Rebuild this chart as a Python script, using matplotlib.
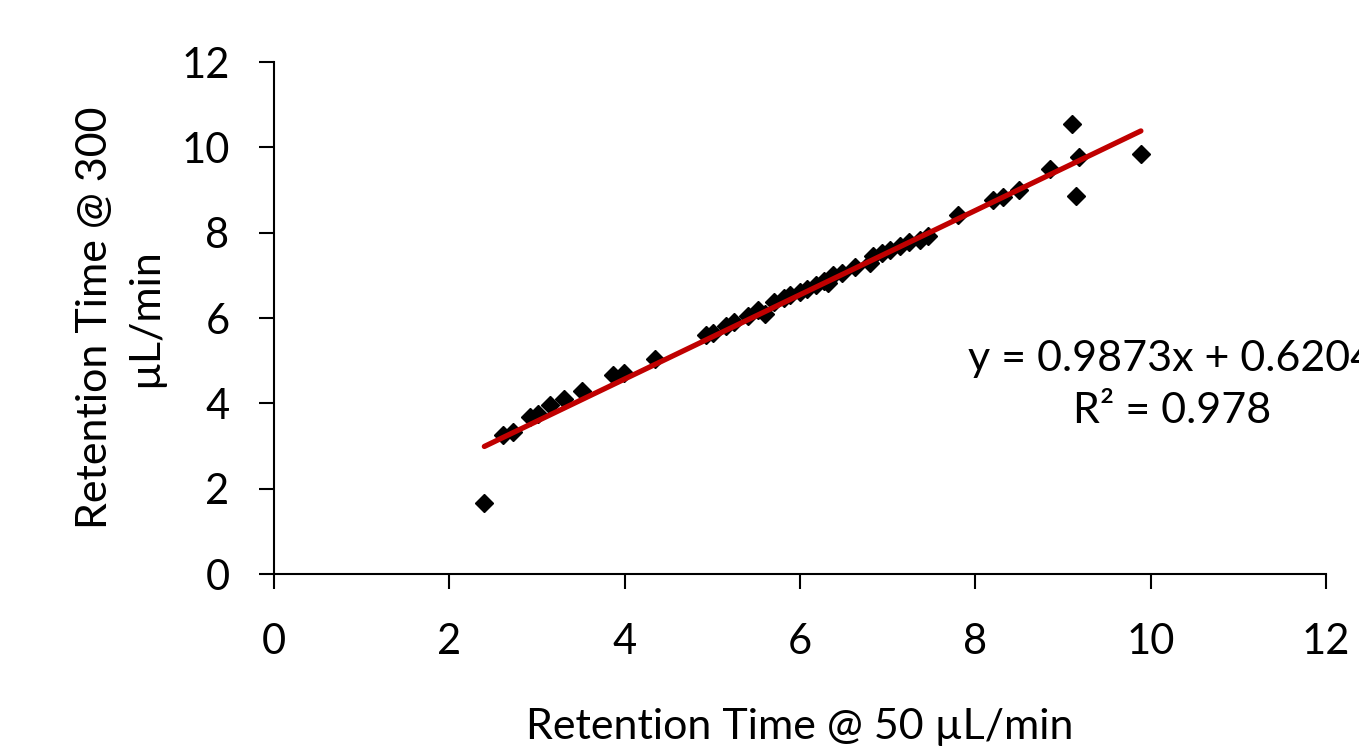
import matplotlib.pyplot as plt
import numpy as np

plt.rcParams['font.family'] = ['Lato', 'DejaVu Sans']

# retention times
rt_50 = [2.40, 2.61, 2.73, 2.92, 3.01, 3.15, 3.31, 3.51, 3.87, 3.99,
         4.35, 4.93, 5.01, 5.16, 5.25, 5.41, 5.52, 5.60, 5.70, 5.82,
         5.89, 6.00, 6.08, 6.18, 6.28, 6.32, 6.38, 6.48, 6.63, 6.80,
         6.83, 6.94, 7.03, 7.14, 7.25, 7.37, 7.46, 7.80, 8.20, 8.32,
         8.50, 8.85, 9.10, 9.18, 9.15, 9.89]
rt_300 = [1.66, 3.26, 3.33, 3.68, 3.75, 3.96, 4.10, 4.29, 4.66, 4.71,
          5.04, 5.60, 5.65, 5.81, 5.91, 6.05, 6.19, 6.09, 6.37, 6.47,
          6.54, 6.61, 6.68, 6.77, 6.87, 6.82, 7.01, 7.05, 7.19, 7.29,
          7.45, 7.52, 7.59, 7.69, 7.78, 7.83, 7.92, 8.41, 8.77, 8.84,
          9.00, 9.49, 10.55, 9.77, 8.86, 9.84]
slope = 0.9873
intercept = 0.6204
r2 = 0.978

x = np.array(rt_50)
y = np.array(rt_300)

fig = plt.figure(figsize=(13.59, 7.49), dpi=100)
ax = fig.add_axes([0.2016, 0.2336, 0.774, 0.6836])

xl = np.array([x.min(), x.max()])
ax.plot(xl, slope * xl + intercept, color='#C00000', lw=3.8, solid_capstyle='round', zorder=3)
ax.plot(x, y, 'D', color='black', ms=9, mec='black', zorder=2, clip_on=False)

ax.set_xlim(0, 12)
ax.set_ylim(0, 12)
ax.set_xticks(range(0, 13, 2))
ax.set_yticks(range(0, 13, 2))
ax.spines['top'].set_visible(False)
ax.spines['right'].set_visible(False)
ax.spines['left'].set_linewidth(1.5)
ax.spines['bottom'].set_linewidth(1.5)
ax.tick_params(axis='both', direction='out', length=11, width=1.5, labelsize=30)
ax.tick_params(axis='x', pad=24)
ax.tick_params(axis='y', pad=21)

ax.set_xlabel('Retention Time @ 50 µL/min', fontsize=31, labelpad=34)
ax.set_ylabel('Retention Time @ 300\nµL/min', fontsize=31, labelpad=12, linespacing=1.4)

# trendline label, cut off at the right edge as in the original
fig.text(1172 / 1359, 1 - 385 / 749, 'y = %.4fx + %.4f\nR² = %.3f' % (slope, intercept, r2),
         ha='center', va='center', fontsize=31, linespacing=1.45)

fig.savefig('out.png', dpi=100)
